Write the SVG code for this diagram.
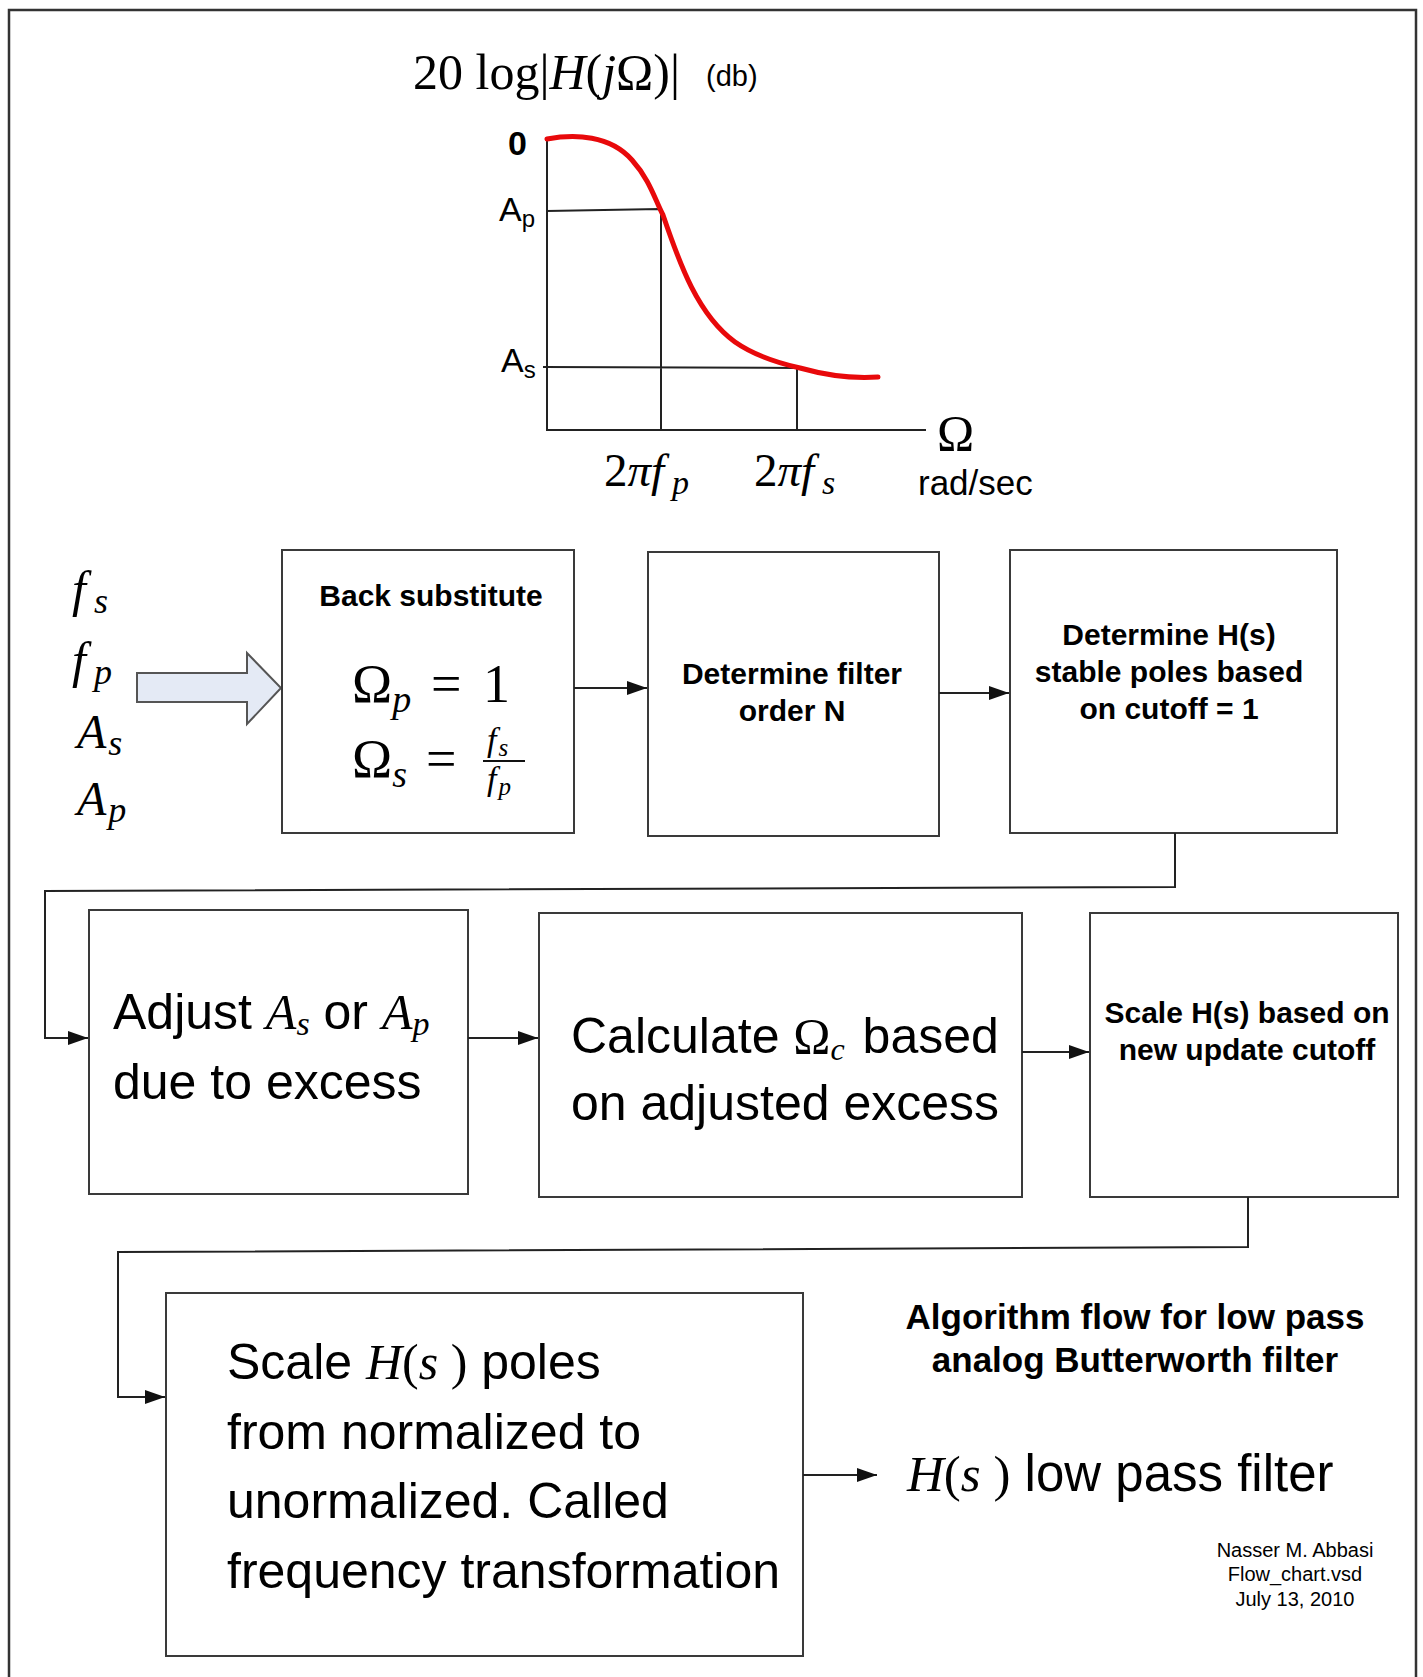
<svg xmlns="http://www.w3.org/2000/svg" width="1423" height="1677" viewBox="0 0 1423 1677">
<style>
.box{fill:#fff;stroke:#3a3a3a;stroke-width:2}
.ln{fill:none;stroke:#222;stroke-width:2}
.arr{fill:none;stroke:#222;stroke-width:2;marker-end:url(#ah)}
.sans{font-family:"Liberation Sans",Arial,sans-serif;fill:#000}
.b{font-weight:bold}
.serif{font-family:"Liberation Serif","Times New Roman",serif;fill:#000}
.it{font-style:italic}
</style>
<defs>
<marker id="ah" markerUnits="userSpaceOnUse" markerWidth="22" markerHeight="14" refX="20" refY="7" orient="auto">
<path d="M0,0 L20,7 L0,14 Z" fill="#111"/>
</marker>
</defs>
<rect width="1423" height="1677" fill="#fff"/>
<path d="M9,1677 V10 H1416 V1677" fill="none" stroke="#333" stroke-width="2.5"/>

<g id="chart">
<text class="serif" x="413" y="89" font-size="50">20 log|<tspan class="it">H</tspan>(<tspan class="it">j</tspan>Ω)|</text>
<text class="sans" x="706" y="86" font-size="29">(db)</text>
<path class="ln" d="M547,137 V430 H926"/>
<path class="ln" d="M547,211 L660,209 M661,210 V430 M543,367 L797,368 M797,367 V430"/>
<path d="M547,139 C575,134 610,135 632,160 C650,180 655,200 663,215 C680,265 698,315 735,342 C755,356 778,363 800,368 C825,375 850,379 878,377" fill="none" stroke="#e8090b" stroke-width="5" stroke-linecap="round"/>
<text class="sans b" x="508" y="155" font-size="34">0</text>
<text class="sans" x="499" y="221" font-size="34">A<tspan font-size="24" dy="6">p</tspan></text>
<text class="sans" x="501" y="372" font-size="34">A<tspan font-size="24" dy="6">s</tspan></text>
<text class="serif" x="604" y="486" font-size="47">2<tspan class="it">πf</tspan><tspan class="it" font-size="34" dx="8" dy="8">p</tspan></text>
<text class="serif" x="754" y="486" font-size="47">2<tspan class="it">πf</tspan><tspan class="it" font-size="34" dx="8" dy="8">s</tspan></text>
<text class="serif" x="937" y="450" font-size="50">Ω</text>
<text class="sans" x="918" y="495" font-size="35">rad/sec</text>
</g>

<g id="inputs">
<text class="serif it" x="72" y="606" font-size="50">f<tspan font-size="36" dx="8" dy="7">s</tspan></text>
<text class="serif it" x="72" y="677" font-size="50">f<tspan font-size="36" dx="8" dy="7">p</tspan></text>
<text class="serif it" x="77" y="748" font-size="48">A<tspan font-size="36" dx="2" dy="7">s</tspan></text>
<text class="serif it" x="77" y="815" font-size="48">A<tspan font-size="36" dx="2" dy="7">p</tspan></text>
<polygon points="137,673 247,673 247,653 281,688 247,724 247,702 137,702" fill="#e4eaf5" stroke="#555" stroke-width="2"/>
</g>

<g id="n1">
<rect class="box" x="282" y="550" width="292" height="283"/>
<text class="sans b" x="431" y="606" font-size="30" text-anchor="middle">Back substitute</text>
<text class="serif" x="352" y="702" font-size="54">Ω<tspan class="it" font-size="38" dy="10">p</tspan></text>
<text class="serif" x="431" y="702" font-size="54">=</text>
<text class="serif" x="483" y="702" font-size="54">1</text>
<text class="serif" x="352" y="777" font-size="54">Ω<tspan class="it" font-size="38" dy="10">s</tspan></text>
<text class="serif" x="426" y="777" font-size="54">=</text>
<text class="serif it" x="487" y="751" font-size="34">f<tspan font-size="25" dx="2" dy="5">s</tspan></text>
<line x1="483" y1="761" x2="525" y2="761" stroke="#111" stroke-width="2"/>
<text class="serif it" x="487" y="790" font-size="34">f<tspan font-size="25" dx="2" dy="5">p</tspan></text>
</g>

<g id="n2">
<rect class="box" x="648" y="552" width="291" height="284"/>
<text class="sans b" x="792" y="684" font-size="30" text-anchor="middle">Determine filter</text>
<text class="sans b" x="792" y="721" font-size="30" text-anchor="middle">order N</text>
</g>

<g id="n3">
<rect class="box" x="1010" y="550" width="327" height="283"/>
<text class="sans b" x="1169" y="645" font-size="30" text-anchor="middle">Determine H(s)</text>
<text class="sans b" x="1169" y="682" font-size="30" text-anchor="middle">stable poles based</text>
<text class="sans b" x="1169" y="719" font-size="30" text-anchor="middle">on cutoff = 1</text>
</g>

<g id="n4">
<rect class="box" x="89" y="910" width="379" height="284"/>
<text class="sans" x="113" y="1029" font-size="50">Adjust <tspan class="serif it">A<tspan font-size="34" dy="6">s</tspan></tspan><tspan dy="-6"> or </tspan><tspan class="serif it">A<tspan font-size="34" dy="6">p</tspan></tspan></text>
<text class="sans" x="113" y="1099" font-size="50">due to excess</text>
</g>

<g id="n5">
<rect class="box" x="539" y="913" width="483" height="284"/>
<text class="sans" x="571" y="1053" font-size="50">Calculate <tspan class="serif">Ω<tspan class="it" font-size="32" dy="7">c</tspan></tspan><tspan dy="-7" dx="4"> based</tspan></text>
<text class="sans" x="571" y="1120" font-size="50">on adjusted excess</text>
</g>

<g id="n6">
<rect class="box" x="1090" y="913" width="308" height="284"/>
<text class="sans b" x="1247" y="1023" font-size="30" text-anchor="middle">Scale H(s) based on</text>
<text class="sans b" x="1247" y="1060" font-size="30" text-anchor="middle">new update cutoff</text>
</g>

<g id="n7">
<rect class="box" x="166" y="1293" width="637" height="363"/>
<text class="sans" x="227" y="1379" font-size="50">Scale <tspan class="serif it">H</tspan><tspan class="serif">(</tspan><tspan class="serif it">s</tspan><tspan class="serif"> )</tspan> poles</text>
<text class="sans" x="227" y="1449" font-size="50">from normalized to</text>
<text class="sans" x="227" y="1518" font-size="50">unormalized. Called</text>
<text class="sans" x="227" y="1588" font-size="50">frequency transformation</text>
</g>

<g id="output">
<text class="sans" x="907" y="1491" font-size="51"><tspan class="serif it">H</tspan><tspan class="serif">(</tspan><tspan class="serif it">s</tspan><tspan class="serif"> )</tspan> low pass filter</text>
</g>

<g id="title">
<text class="sans b" x="1135" y="1329" font-size="35" text-anchor="middle">Algorithm flow for low pass</text>
<text class="sans b" x="1135" y="1372" font-size="35" text-anchor="middle">analog Butterworth filter</text>
</g>

<g id="author">
<text class="sans" x="1295" y="1557" font-size="20" text-anchor="middle" fill="#333">Nasser M. Abbasi</text>
<text class="sans" x="1295" y="1581" font-size="20" text-anchor="middle" fill="#333">Flow_chart.vsd</text>
<text class="sans" x="1295" y="1606" font-size="20" text-anchor="middle" fill="#333">July 13, 2010</text>
</g>

<g id="connectors">
<path class="arr" d="M574,688 H647"/>
<path class="arr" d="M939,693 H1009"/>
<path class="arr" d="M1175,833 V887 L45,891 V1038 H88"/>
<path class="arr" d="M468,1038 H538"/>
<path class="arr" d="M1022,1052 H1089"/>
<path class="arr" d="M1248,1197 V1247 L118,1252 V1397 H165"/>
<path class="arr" d="M803,1475 H877"/>
</g>
</svg>
